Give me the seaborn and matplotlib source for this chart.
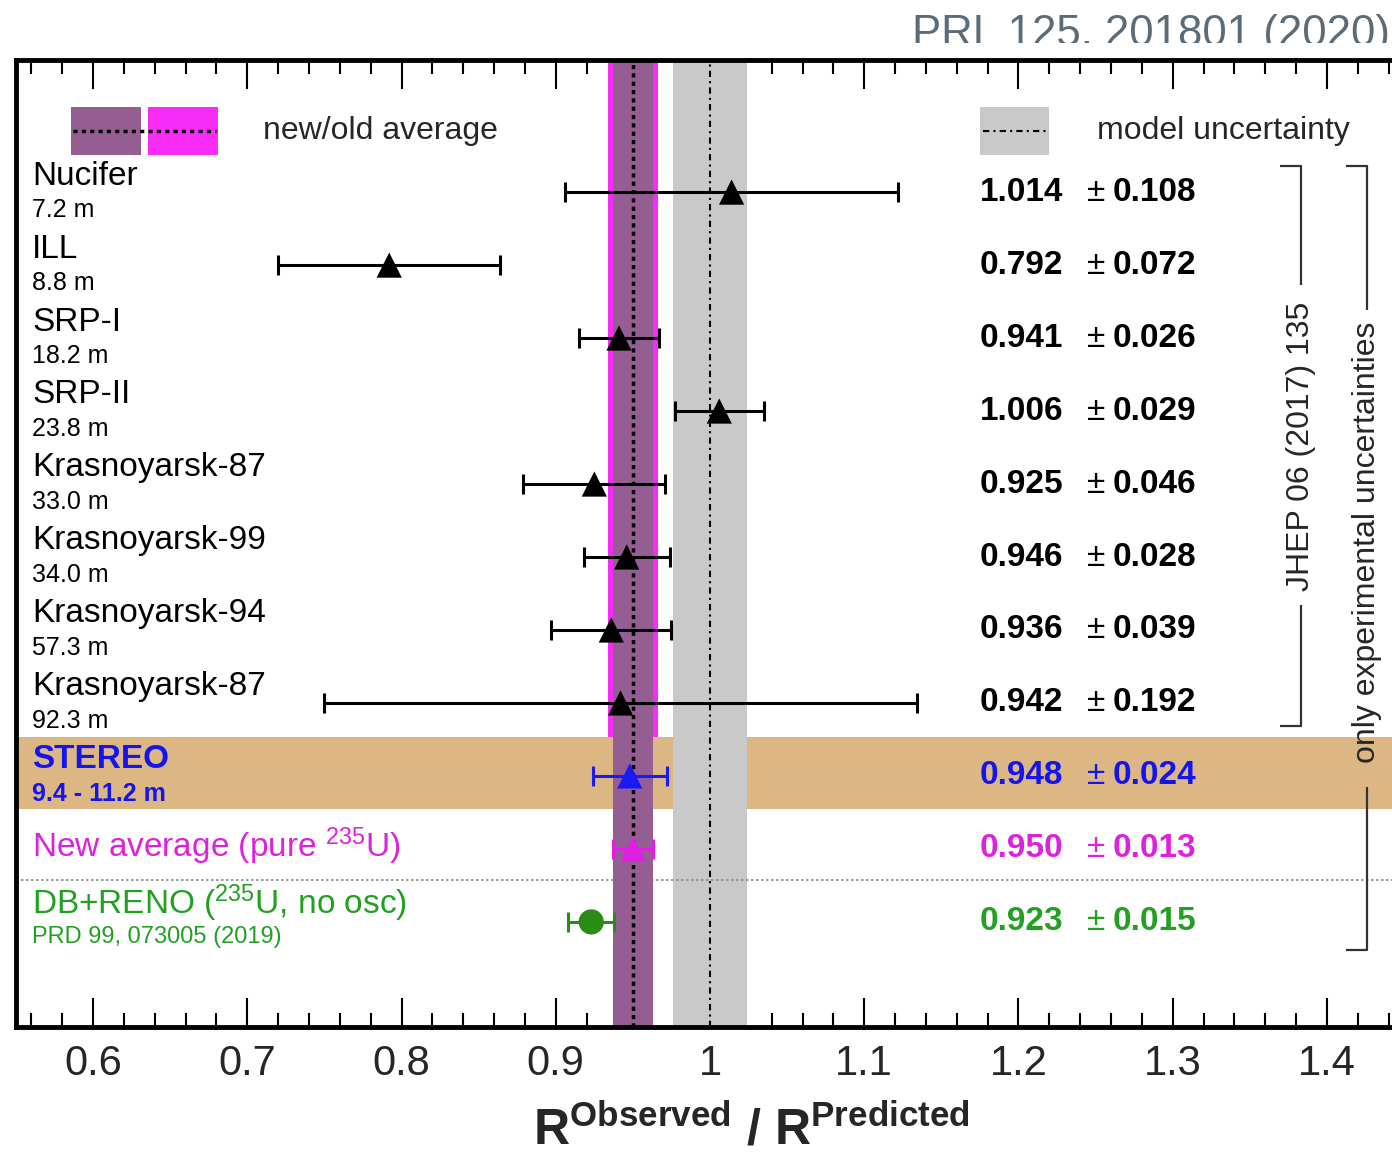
import numpy as np
import pandas as pd
import matplotlib
matplotlib.use("Agg")
import matplotlib.pyplot as plt
from matplotlib.patches import Rectangle
import seaborn as sns

# ---------------- data ----------------
experiments = ["Nucifer", "ILL", "SRP-I", "SRP-II", "Krasnoyarsk-87", "Krasnoyarsk-99",
               "Krasnoyarsk-94", "Krasnoyarsk-87", "STEREO",
               "New average (pure $^{235}$U)", "DB+RENO ($^{235}$U, no osc)"]
subtitles = ["7.2 m", "8.8 m", "18.2 m", "23.8 m", "33.0 m", "34.0 m", "57.3 m", "92.3 m",
             "9.4 - 11.2 m", "", "PRD 99, 073005 (2019)"]
ratio = [1.014, 0.792, 0.941, 1.006, 0.925, 0.946, 0.936, 0.942, 0.948, 0.950, 0.923]
ratio_err = [0.108, 0.072, 0.026, 0.029, 0.046, 0.028, 0.039, 0.192, 0.024, 0.013, 0.015]
group = ["old"] * 8 + ["stereo", "newavg", "dbreno"]

new_avg, new_avg_err = 0.950, 0.013
old_avg, old_avg_err = 0.950, 0.016
model_center, model_err = 1.0, 0.024

tick_vals = [0.6, 0.7, 0.8, 0.9, 1.0, 1.1, 1.2, 1.3, 1.4]
tick_labels = ["0.6", "0.7", "0.8", "0.9", "1", "1.1", "1.2", "1.3", "1.4"]

# ---------------- style ----------------
sns.set_style("white")
plt.rcParams["font.family"] = ["Liberation Sans", "DejaVu Sans"]
plt.rcParams["mathtext.fontset"] = "custom"
plt.rcParams["mathtext.rm"] = "Liberation Sans"
plt.rcParams["mathtext.bf"] = "Liberation Sans:bold"
plt.rcParams["mathtext.it"] = "Liberation Sans:italic"
plt.rcParams["mathtext.default"] = "regular"

marker_col = {"old": "black", "stereo": "#1a1af5", "newavg": "#e020e0", "dbreno": "#2a8c14"}
text_col = {"old": "black", "stereo": "#1414f0", "newavg": "#dd22dd", "dbreno": "#22a022"}
markers = {"old": "^", "stereo": "^", "newavg": "^", "dbreno": "o"}

df = pd.DataFrame({"experiment": experiments, "sub": subtitles, "ratio": ratio,
                   "err": ratio_err, "group": group})
df["row"] = np.arange(len(df))

fig = plt.figure(figsize=(13.92, 11.54), dpi=100)
ax = fig.add_axes([16 / 1392, 127 / 1154, 1388 / 1392, 967 / 1154])
ax.set_xlim(0.55, 1.45)
ax.set_ylim(11.44, -1.81)

# ---------------- bands ----------------
ytop, ybot = -1.81, 11.44
stereo_lo, stereo_hi = 7.466, 8.452
ax.axhspan(stereo_lo, stereo_hi, color="#dcb784", lw=0, zorder=1)
ax.axvspan(model_center - model_err, model_center + model_err, color="#c9c9c9", lw=0, zorder=1.2)
ax.axhline(9.42, color="#8a8a8a", ls=(0, (1.5, 1.5)), lw=1.2, zorder=1.5)
ax.fill_betweenx([ytop, stereo_lo], old_avg - old_avg_err, old_avg + old_avg_err,
                 color="#f72cf7", lw=0, zorder=1.8)
ax.axvspan(new_avg - new_avg_err, new_avg + new_avg_err, color="#955e93", lw=0, zorder=2)
ax.axvline(new_avg, color="black", ls=(0, (1.2, 1.2)), lw=2.5, zorder=2.5)
ax.axvline(model_center, color="black", ls=(0, (3, 2, 1, 2)), lw=1.5, zorder=2.5)

# ---------------- legend row ----------------
leg_y = -0.836
box_h = 0.66
ax.add_patch(Rectangle((0.5857, leg_y - box_h / 2), 0.0454, box_h, color="#955e93", lw=0, zorder=3))
ax.add_patch(Rectangle((0.6357, leg_y - box_h / 2), 0.0453, box_h, color="#f72cf7", lw=0, zorder=3))
ax.plot([0.587, 0.6797], [leg_y, leg_y], color="black", ls=(0, (1.2, 1.2)), lw=2.5, zorder=4)
ax.text(0.7102, leg_y, "new/old average", fontsize=23, va="center", ha="left", zorder=4)
ax.add_patch(Rectangle((1.175, leg_y - box_h / 2), 0.0448, box_h, color="#c9c9c9", lw=0, zorder=3))
ax.plot([1.177, 1.218], [leg_y, leg_y], color="black", ls=(0, (3, 2, 1, 2)), lw=1.5, zorder=4)
ax.text(1.2509, leg_y, "model uncertainty", fontsize=23, va="center", ha="left", zorder=4)

# ---------------- error bars + markers ----------------
for g, sub in df.groupby("group"):
    ax.errorbar(sub["ratio"], sub["row"], xerr=sub["err"], fmt="none",
                ecolor=marker_col[g], elinewidth=2.2, capsize=7, capthick=2.2, zorder=4)
sns.scatterplot(data=df, x="ratio", y="row", hue="group", palette=marker_col,
                style="group", markers=markers, s=330, linewidth=0, legend=False,
                ax=ax, zorder=5)

# ---------------- texts ----------------
for _, r in df.iterrows():
    c = text_col[r["group"]]
    bold = r["group"] == "stereo"
    if r["group"] == "newavg":
        ax.text(0.5604, r["row"] - 0.03, r["experiment"], fontsize=24, color=c,
                va="center", ha="left")
    else:
        dn = -0.25 if r["group"] == "dbreno" else -0.22
        ax.text(0.5604, r["row"] + dn, r["experiment"], fontsize=24, color=c,
                va="center", ha="left", fontweight="bold" if bold else "normal")
        dy = 0.21 if r["group"] == "dbreno" else 0.25
        fs = 17 if r["group"] == "dbreno" else 18
        ax.text(0.5604, r["row"] + dy, r["sub"], fontsize=fs, color=c,
                va="center", ha="left", fontweight="bold" if bold else "normal")
    ax.text(1.175, r["row"], f"{r['ratio']:.3f}", fontsize=24, fontweight="bold",
            color=c, va="center", ha="left")
    ax.text(1.2502, r["row"], "\u00b1", fontsize=24, color=c, va="center", ha="center")
    ax.text(1.2613, r["row"], f"{r['err']:.3f}", fontsize=24, fontweight="bold",
            color=c, va="center", ha="left")

# ---------------- brackets ----------------
bk = dict(color="#333333", lw=1.6, zorder=3, solid_capstyle="butt")
ax.plot([1.3695, 1.3831, 1.3831], [-0.356, -0.356, 1.274], **bk)
ax.plot([1.3831, 1.3831, 1.3695], [5.658, 7.315, 7.315], **bk)
ax.text(1.3831, 3.479, "JHEP 06 (2017) 135", rotation=90, fontsize=23,
        ha="center", va="center")
ax.plot([1.4123, 1.4259, 1.4259], [-0.356, -0.356, 1.616], **bk)
ax.plot([1.4259, 1.4259, 1.4123], [8.15, 10.38, 10.38], **bk)
ax.text(1.4259, 4.80, "only experimental uncertainties", rotation=90, fontsize=23,
        ha="center", va="center", zorder=4)

# ---------------- axes styling ----------------
ax.set_yticks([])
ax.set_xticks(tick_vals)
ax.set_xticklabels(tick_labels, fontsize=30)
ax.set_xticks(np.round(np.arange(0.56, 1.45, 0.02), 2), minor=True)
ax.tick_params(axis="x", which="major", direction="in", top=True, bottom=True,
               length=21, width=1.5, pad=12, color="black")
ax.tick_params(axis="x", which="minor", direction="in", top=True, bottom=True,
               length=10, width=1.5, color="black")
for s in ax.spines.values():
    s.set_linewidth(3.5)
    s.set_color("black")
    s.set_visible(True)
ax.set_ylabel("")
ax.set_xlabel(r"$\mathbf{R^{Observed}\ /\ R^{Predicted}}$", fontsize=36)
ax.xaxis.set_label_coords(0.5295, -0.080)
ax.xaxis.label.set_va("top")

# ---------------- title (clipped at bottom as in reference) ----------------
fig.text(912 / 1392, 1 - 46 / 1154, "PRL 125, 201801 (2020)", fontsize=31.5,
         color="#5b6b78", ha="left", va="baseline")
fig.add_artist(Rectangle((0, 1 - 56 / 1154), 1, 13 / 1154, transform=fig.transFigure,
                         color="white", lw=0, zorder=10))

fig.savefig("out.png", dpi=100)
